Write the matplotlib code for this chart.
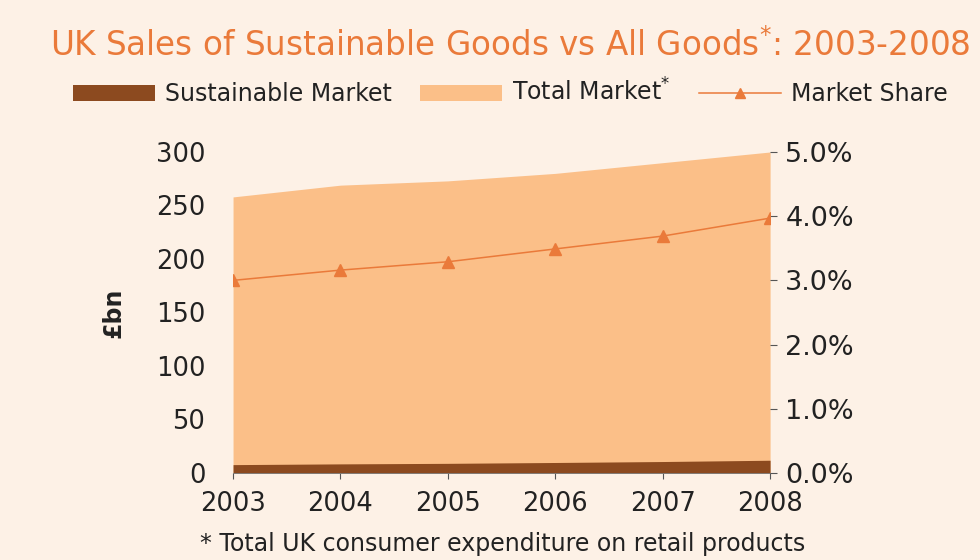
import numpy as np
import matplotlib.pyplot as plt
from matplotlib.patches import Patch
from matplotlib.lines import Line2D

# ---------------- Data ----------------
years = [2003, 2004, 2005, 2006, 2007, 2008]
total_market = [258, 269, 273, 280, 290, 300]          # £bn
sustainable_market = [7.8, 8.5, 9.0, 9.8, 10.7, 11.9]  # £bn
market_share = [3.0, 3.16, 3.29, 3.49, 3.69, 3.97]     # %

left_ticks = [0, 50, 100, 150, 200, 250, 300]
right_ticks = [0, 1, 2, 3, 4, 5]

# ---------------- Style ----------------
BG = "#fdf1e6"
LIGHT = "#fbbf88"
BROWN = "#8c4a1f"
ORANGE = "#ea7a3a"
TXT = "#222222"

plt.rcParams["font.family"] = ["DejaVu Sans"]

fig = plt.figure(figsize=(9.8, 5.6), dpi=100, facecolor=BG)
ax = fig.add_axes([0.2378, 0.1554, 0.548, 0.5732])
ax.set_facecolor(BG)

ax.fill_between(years, 0, total_market, color=LIGHT, lw=0, zorder=1)
ax.fill_between(years, 0, sustainable_market, color=BROWN, lw=0, zorder=2)

ax.set_xlim(years[0], years[-1])
ax.set_ylim(0, 300)
ax.set_yticks(left_ticks)
ax.set_xticks(years)
ax.tick_params(axis="y", length=0, pad=20, labelsize=18.5, colors=TXT)
ax.tick_params(axis="x", length=4, width=0.8, color="#555555", pad=9,
               labelsize=18.5, labelcolor=TXT)
for s in ["top", "right", "left"]:
    ax.spines[s].set_visible(False)
ax.spines["bottom"].set_color("#777777")
ax.spines["bottom"].set_linewidth(0.6)
ax.set_ylabel("£bn", fontsize=17, fontweight="bold", color=TXT, labelpad=22)

ax2 = ax.twinx()
ax2.plot(years, market_share, color=ORANGE, lw=1.1, marker="^",
         markersize=9, zorder=5)
ax2.set_ylim(0, 5)
ax2.set_yticks(right_ticks)
ax2.set_yticklabels([f"{v:.1f}%" for v in right_ticks])
ax2.tick_params(axis="y", length=5, width=0.8, color="#555555", pad=6,
                labelsize=19.5, labelcolor=TXT)
for s in ["top", "right", "left", "bottom"]:
    ax2.spines[s].set_visible(False)

# title
fig.text(0.051, 0.918, "UK Sales of Sustainable Goods vs All Goods$^{*}$: 2003-2008",
         fontsize=23.5, color=ORANGE, ha="left", va="center")

# legend
handles = [
    Patch(facecolor=BROWN, edgecolor="none"),
    Patch(facecolor=LIGHT, edgecolor="none"),
    Line2D([0], [0], color=ORANGE, lw=1.1, marker="^", markersize=7),
]
labels = ["Sustainable Market", "Total Market$^{*}$", "Market Share"]
fig.legend(handles, labels, loc="center left", bbox_to_anchor=(0.0745, 0.835),
           ncol=3, frameon=False, fontsize=17, handlelength=3.47,
           handleheight=0.68, handletextpad=0.42, columnspacing=1.2,
           borderpad=0, borderaxespad=0, labelcolor=TXT)

# footnote
fig.text(0.204, 0.028, "* Total UK consumer expenditure on retail products",
         fontsize=17, color=TXT, ha="left", va="center")

fig.savefig("out.png", dpi=100, facecolor=BG)
